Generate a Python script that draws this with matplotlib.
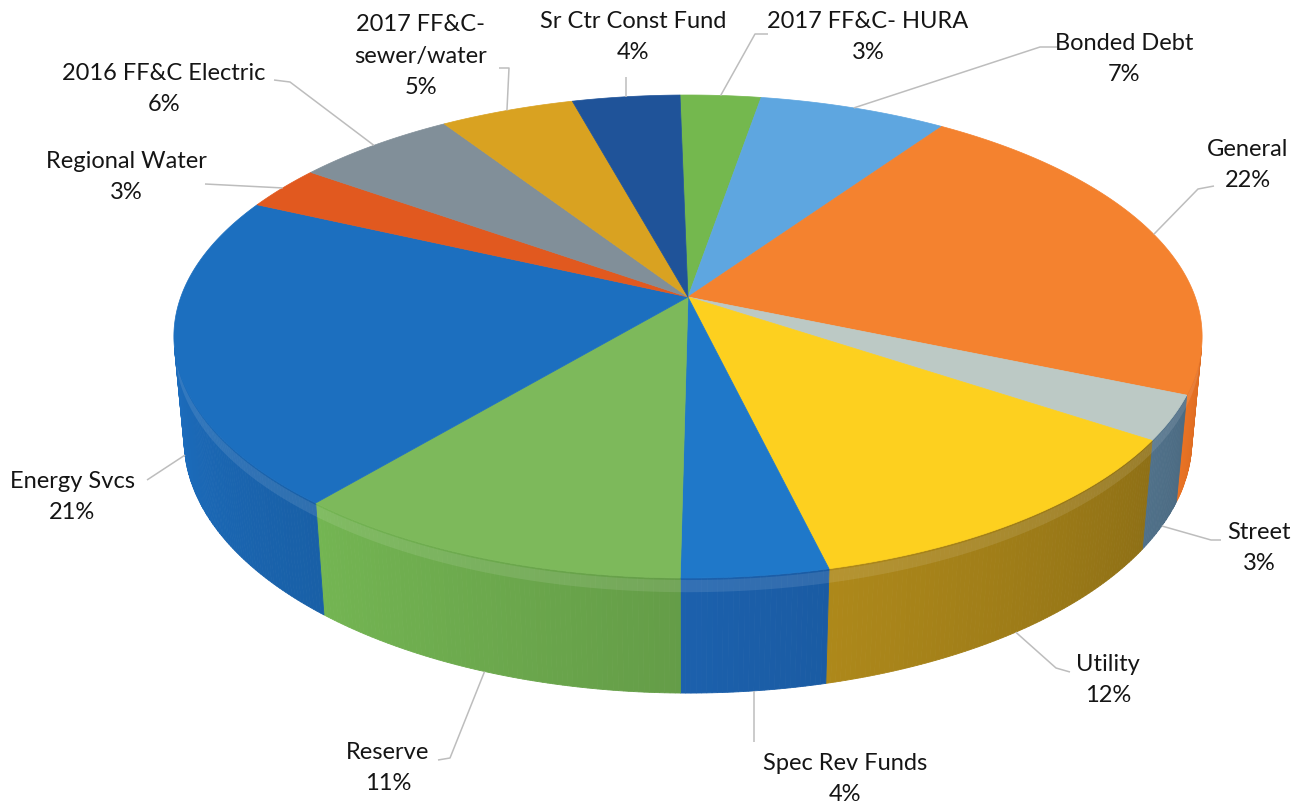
import numpy as np
import matplotlib
matplotlib.use("Agg")
import matplotlib.pyplot as plt
from matplotlib.patches import Polygon
from matplotlib.colors import to_rgb

# ---- data -------------------------------------------------------------
labels = ["2017 FF&C- HURA", "Bonded Debt", "General", "Street", "Utility",
          "Spec Rev Funds", "Reserve", "Energy Svcs", "Regional Water",
          "2016 FF&C Electric", "2017 FF&C-\nsewer/water", "Sr Ctr Const Fund"]
shares = [3, 7, 22, 3, 12, 4, 11, 21, 3, 6, 5, 4]

top_colors = ["#74B84E", "#5EA6E0", "#F4822F", "#BCC9C5", "#FDD01F",
              "#1F78C9", "#7DB95B", "#1C6FBF", "#E1591F", "#818F99",
              "#D9A221", "#1F5399"]
side_colors = ["#5E9A3E", "#4A88BC", "#DC6C22", "#4E6E86", "#9E7C18",
               "#1B5EA8", "#6CA94D", "#1C6CBC", "#B5471A", "#66737C",
               "#A87D18", "#183F75"]

# ---- label layout (pixel space): text centre, leader start, optional elbow
label_pos = [(868, 37), (1124, 59), (1248, 165), (1259, 548), (1108, 680),
             (845, 779), (388, 768), (72, 497), (126, 177), (164, 89),
             (421, 56), (633, 37)]
leader_start = [(768, 34), (1057, 47), (1214, 186), (1221, 540), (1070, 672),
                (None, 742), (438, 760), (147, 480), (205, 184), (274, 80),
                (499, 68), (None, 77)]
leader_elbow = [(755, 34), (1040, 47), (1198, 189), (1211, 540), (1056, 668),
                None, (450, 758), None, None, (290, 82), (509, 68), None]

# ---- camera / projection ---------------------------------------------
W, H = 1308, 808
ELEV = np.arcsin(0.4634)
DIST = 5.418
SCALE = 2748.0
THICK = 0.2316
CX, CY = 688.0, 297.0
START = -1.05
cE, sE = np.cos(ELEV), np.sin(ELEV)


def project(phi_deg, r=1.0, z=0.0):
    phi = np.radians(phi_deg)
    X = r * np.sin(phi)
    Y = -r * np.cos(phi)
    depth = DIST - Y * cE - z * sE
    sx = X / depth
    sy = (-Y * sE + z * cE) / depth
    return np.column_stack([CX + SCALE * np.atleast_1d(sx),
                            CY - SCALE * np.atleast_1d(sy)])


total = float(sum(shares))
bounds = START + np.concatenate([[0], np.cumsum(shares)]) / total * 360.0
vis_lo = np.degrees(np.arccos(-1.0 / (DIST * cE)))
vis_hi = 360.0 - vis_lo


def side_shade(phi):
    return 0.55 + (phi - 110.0) * 0.003


fig = plt.figure(figsize=(W / 100, H / 100), dpi=100)
ax = fig.add_axes([0, 0, 1, 1])
ax.set_xlim(0, W)
ax.set_ylim(H, 0)
ax.axis("off")

# outer walls (front-facing part only), shaded along the arc
for i in range(len(shares)):
    a0, a1 = max(bounds[i], vis_lo), min(bounds[i + 1], vis_hi)
    if a1 <= a0:
        continue
    mid = 0.5 * (bounds[i] + bounds[i + 1])
    mid_c = min(max(mid, vis_lo), vis_hi)
    base = np.array(to_rgb(side_colors[i]))
    n = max(int((a1 - a0) / 0.5), 1)
    edges = np.linspace(a0, a1, n + 1)
    for k in range(n):
        ph = np.linspace(edges[k], edges[k + 1], 3)
        topp = project(ph, 1.0, 0.0)
        botp = project(ph[::-1], 1.0, -THICK)
        f = side_shade(0.5 * (edges[k] + edges[k + 1])) / side_shade(mid_c)
        col = np.clip(base * f, 0, 1)
        ax.add_patch(Polygon(np.vstack([topp, botp]), closed=True,
                             facecolor=col, edgecolor=col, lw=0.6, zorder=1))

# soft highlight just under the rim
ph = np.linspace(vis_lo + 3, vis_hi - 3, 300)
band = np.vstack([project(ph, 1.0, -0.004), project(ph[::-1], 1.0, -0.028)])
ax.add_patch(Polygon(band, closed=True, facecolor="white", edgecolor="none",
                     alpha=0.10, zorder=1.5))

# top faces
for i in range(len(shares)):
    ph = np.linspace(bounds[i], bounds[i + 1], 120)
    rim = project(ph, 1.0, 0.0)
    pts = np.vstack([[CX, CY], rim])
    ax.add_patch(Polygon(pts, closed=True, facecolor=top_colors[i],
                         edgecolor=top_colors[i], lw=0.5, zorder=2))

# labels and leader lines
for i, name in enumerate(labels):
    mid = 0.5 * (bounds[i] + bounds[i + 1])
    front = -np.cos(np.radians(mid)) > 0
    anchor = project(mid, 1.0, -THICK if front else 0.0)[0]
    sx, sy = leader_start[i]
    if sx is None:
        sx = anchor[0]
    path = [(sx, sy)]
    if leader_elbow[i] is not None:
        path.append(leader_elbow[i])
    path.append(tuple(anchor))
    path = np.array(path)
    ax.plot(path[:, 0], path[:, 1], color="#BDBDBD", lw=1.1, zorder=3,
            solid_capstyle="butt")
    tx, ty = label_pos[i]
    ax.text(tx, ty, f"{name}\n{shares[i]}%", ha="center", va="center",
            multialignment="center", fontsize=17, family="Lato",
            color="#151515", linespacing=1.6, zorder=4)

fig.savefig("out.png", dpi=100, facecolor="white")
